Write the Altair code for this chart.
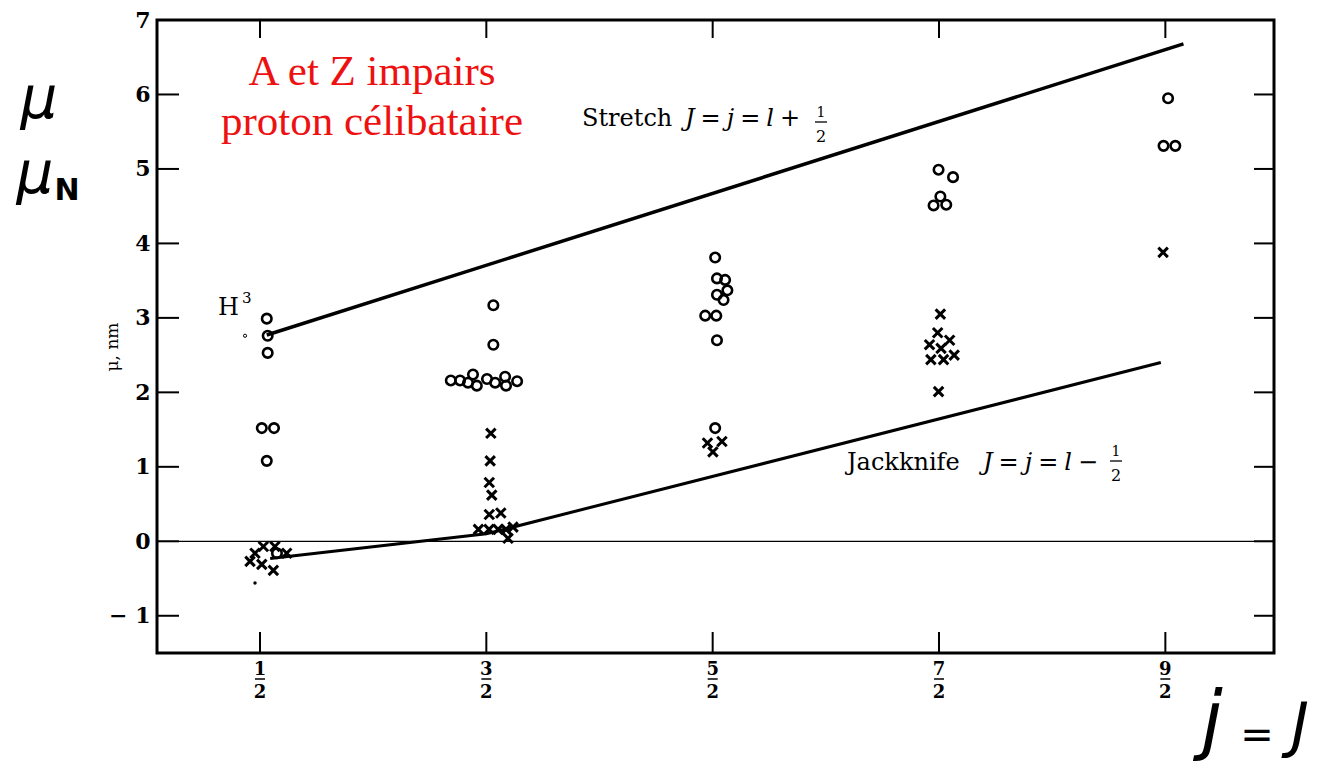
import altair as alt
import pandas as pd

# ---------------- data ----------------
circ_j = [0.530, 0.534, 0.534, 0.508, 0.562, 0.530, 0.575,
          1.531, 1.531, 1.343, 1.384, 1.419, 1.441, 1.458, 1.503, 1.539, 1.583, 1.587, 1.636,
          2.511, 2.519, 2.555, 2.565, 2.519, 2.548, 2.467, 2.516, 2.519, 2.511,
          3.498, 3.562, 3.506, 3.476, 3.532,
          4.512, 4.492, 4.544]
circ_mu = [2.99, 2.76, 2.53, 1.52, 1.52, 1.08, -0.16,
           3.17, 2.64, 2.16, 2.16, 2.13, 2.24, 2.09, 2.18, 2.13, 2.21, 2.09, 2.15,
           3.81, 3.53, 3.51, 3.37, 3.31, 3.24, 3.03, 3.03, 2.70, 1.52,
           4.99, 4.89, 4.63, 4.51, 4.52,
           5.95, 5.31, 5.31]

cross_j = [0.515, 0.566, 0.478, 0.456, 0.508, 0.559, 0.618,
           1.520, 1.517, 1.513, 1.524, 1.513, 1.564, 1.465, 1.512, 1.552, 1.587, 1.618, 1.596,
           2.477, 2.541, 2.501,
           3.506, 3.494, 3.458, 3.547, 3.509, 3.464, 3.520, 3.567, 3.498,
           4.490]
cross_mu = [-0.07, -0.07, -0.16, -0.27, -0.31, -0.39, -0.16,
            1.45, 1.08, 0.79, 0.62, 0.36, 0.38, 0.16, 0.16, 0.16, 0.16, 0.19, 0.04,
            1.32, 1.34, 1.20,
            3.05, 2.80, 2.64, 2.70, 2.59, 2.44, 2.44, 2.50, 2.01,
            3.88]

small_j = [0.434]
small_mu = [2.76]
dot_j = [0.478]
dot_mu = [-0.56]

stretch_j = [0.53, 4.58]
stretch_mu = [2.77, 6.68]
jack_j = [0.545, 1.50, 4.48]
jack_mu = [-0.23, 0.10, 2.40]

tick_j = [0.5, 1.5, 2.5, 3.5, 4.5]
tick_num = ["1", "3", "5", "7", "9"]
tick_den = ["2", "2", "2", "2", "2"]
tick_mu = [-1, 0, 1, 2, 3, 4, 5, 6]

# ---------------- layout ----------------
W, H = 1117, 633
xs = alt.Scale(domain=[0.045, 4.98], nice=False, zero=False)
ys = alt.Scale(domain=[-1.5, 7], nice=False, zero=False)
SERIF = "DejaVu Serif"

circ = pd.DataFrame({"j": circ_j, "mu": circ_mu})
cross = pd.DataFrame({"j": cross_j, "mu": cross_mu})
small = pd.DataFrame({"j": small_j, "mu": small_mu})
dots = pd.DataFrame({"j": dot_j, "mu": dot_mu})
stretch = pd.DataFrame({"j": stretch_j, "mu": stretch_mu})
jack = pd.DataFrame({"j": jack_j, "mu": jack_mu})
xt = pd.DataFrame({"j": tick_j, "num": tick_num, "den": tick_den})
yt = pd.DataFrame({"mu": tick_mu})
zero = pd.DataFrame({"mu": [0]})

X = alt.X("j:Q", scale=xs, axis=alt.Axis(labels=False, ticks=False, domain=False, grid=False, title=None))
Y = alt.Y("mu:Q", scale=ys, axis=alt.Axis(
    values=[-1, 0, 1, 2, 3, 4, 5, 6, 7], tickSize=0, domain=False, grid=False,
    labelFont=SERIF, labelFontWeight="bold", labelFontSize=22, labelColor="black",
    labelPadding=7,
    labelExpr="datum.value < 0 ? '\u2212 ' + (-datum.value) : '' + datum.value",
    title="\u03bc, nm", titleFont=SERIF, titleFontSize=17, titleFontWeight="normal",
    titleColor="black", titleAngle=-90, titleX=-45, titleY=H / 2 + 10,
    titleAlign="center", titleBaseline="middle"))

pts_c = alt.Chart(circ).mark_point(shape="circle", filled=False, size=90, strokeWidth=2.6,
                                   color="black", opacity=1).encode(x=X, y=Y)
xshape = "M-1,-1L1,1M1,-1L-1,1"
pts_x = alt.Chart(cross).mark_point(shape=xshape, filled=False, size=90, strokeWidth=3,
                                    color="black", opacity=1).encode(x="j:Q", y="mu:Q")
pts_s = alt.Chart(small).mark_point(shape="circle", filled=False, size=10, strokeWidth=1,
                                    color="black", opacity=1).encode(x="j:Q", y="mu:Q")
pts_d = alt.Chart(dots).mark_point(shape="circle", filled=True, size=12,
                                   color="black", opacity=1).encode(x="j:Q", y="mu:Q")

l_st = alt.Chart(stretch).mark_line(color="black", strokeWidth=3.5).encode(x="j:Q", y="mu:Q")
l_jk = alt.Chart(jack).mark_line(color="black", strokeWidth=3).encode(x="j:Q", y="mu:Q")
zl = alt.Chart(zero).mark_rule(color="black", strokeWidth=1.3).encode(y="mu:Q")

# inward ticks on all four sides
t_left = alt.Chart(yt).mark_rule(color="black", strokeWidth=2).encode(
    y="mu:Q", x=alt.value(0), x2=alt.value(22))
t_right = alt.Chart(yt).mark_rule(color="black", strokeWidth=2).encode(
    y="mu:Q", x=alt.value(W - 20), x2=alt.value(W))
t_bot = alt.Chart(xt).mark_rule(color="black", strokeWidth=2).encode(
    x="j:Q", y=alt.value(H - 21), y2=alt.value(H))
t_top = alt.Chart(xt).mark_rule(color="black", strokeWidth=2).encode(
    x="j:Q", y=alt.value(0), y2=alt.value(18))

# fraction tick labels
lab_num = alt.Chart(xt).mark_text(font=SERIF, fontSize=18, fontWeight="bold", baseline="alphabetic",
                                  color="black").encode(x="j:Q", y=alt.value(655), text="num:N")
lab_den = alt.Chart(xt).mark_text(font=SERIF, fontSize=18, fontWeight="bold", baseline="alphabetic",
                                  color="black").encode(x="j:Q", y=alt.value(678), text="den:N")
lab_bar = alt.Chart(xt).mark_rule(color="black", strokeWidth=1.5, xOffset=-5, x2Offset=5).encode(
    x="j:Q", x2="j:Q", y=alt.value(659))


def txt(s, x, y, size, font=SERIF, style="normal", weight="normal", color="black", align="left"):
    return alt.Chart(zero).mark_text(text=s, font=font, fontSize=size, fontStyle=style,
                                     fontWeight=weight, color=color, align=align,
                                     baseline="alphabetic").encode(x=alt.value(x), y=alt.value(y))


def bar(x1, x2, y, w=1.3):
    return alt.Chart(zero).mark_rule(color="black", strokeWidth=w).encode(
        x=alt.value(x1), x2=alt.value(x2), y=alt.value(y))


SP = "\u2005"
ann = [
    txt("A et Z impairs", 215, 65, 43, font="Liberation Serif", color="#ee1111", align="center"),
    txt("proton célibataire", 215, 115, 43, font="Liberation Serif", color="#ee1111", align="center"),
    txt("Stretch", 425, 106, 24),
    txt(f"J{SP}={SP}j{SP}={SP}l{SP}+", 528, 106, 24, style="italic"),
    txt("1", 664, 97, 14, align="center"),
    bar(658, 670, 102),
    txt("2", 664, 122, 16, align="center"),
    txt("Jackknife", 690, 450, 24),
    txt(f"J{SP}={SP}j{SP}={SP}l{SP}\u2212", 826, 450, 24, style="italic"),
    txt("1", 959, 436, 14, align="center"),
    bar(953, 965, 441),
    txt("2", 959, 461, 16, align="center"),
    txt("H", 61, 295, 24),
    txt("3", 85, 283, 15),
    # handwritten symbols outside the frame
    txt("\u03bc", -118, 98, 58, font="DejaVu Sans", style="italic", align="center"),
    txt("\u03bc", -122, 173, 58, font="DejaVu Sans", style="italic", align="center"),
    txt("N", -90, 180, 30, font="DejaVu Sans", weight="bold", align="center"),
    txt("j", 1055, 725, 76, font="DejaVu Sans", style="italic", align="center"),
    txt("=", 1100, 728, 40, font="DejaVu Sans", align="center"),
    txt("J", 1143, 726, 60, font="DejaVu Sans", style="italic", align="center"),
]

chart = alt.layer(
    zl, t_left, t_right, t_bot, t_top, l_st, l_jk, pts_c, pts_x, pts_s, pts_d,
    lab_num, lab_den, lab_bar, *ann
).properties(
    width=W, height=H,
    autosize=alt.AutoSizeParams(type="none"),
    padding={"left": 149, "top": 12, "right": 53, "bottom": 114},
    background="white",
).configure_view(stroke="black", strokeWidth=3)

chart.save("out.html", embed_options={"renderer": "svg", "actions": False})
